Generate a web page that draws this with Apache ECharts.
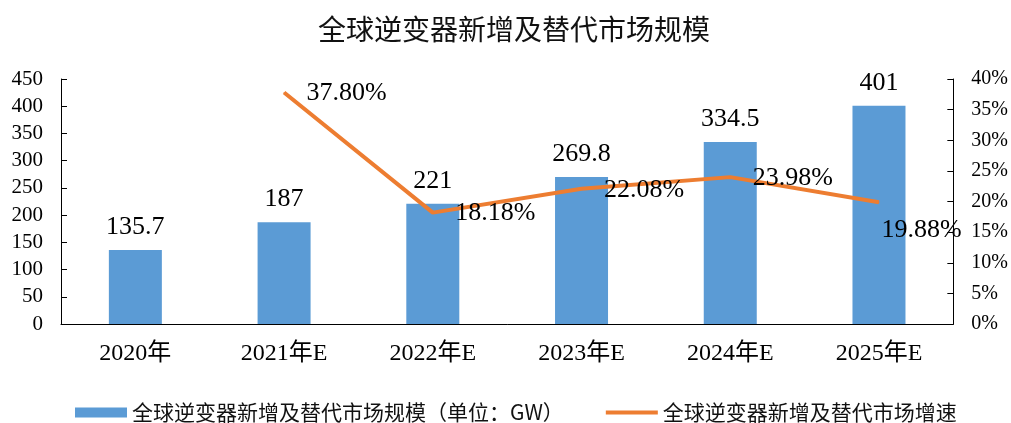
<!DOCTYPE html>
<html>
<head>
<meta charset="utf-8">
<script src="https://cdn.jsdelivr.net/npm/echarts@6/dist/echarts.min.js"></script>
<style>
  html, body { margin: 0; padding: 0; background: #fff; }
  #chart { width: 1011px; height: 423px; }
</style>
</head>
<body>
<div id="chart"></div>
<script>
// Inverter market: new + replacement demand (GW) and its growth rate
const categories = ['2020年', '2021年E', '2022年E', '2023年E', '2024年E', '2025年E'];
const marketSize = [135.7, 187, 221, 269.8, 334.5, 401];
const growthRate = [null, 37.80, 18.18, 22.08, 23.98, 19.88];
const leftTicks = { min: 0, max: 450, interval: 50 };
const rightTicks = { min: 0, max: 40, interval: 5 };

const sizeName = '全球逆变器新增及替代市场规模（单位：GW）';
const rateName = '全球逆变器新增及替代市场增速';

const FONT = '"Liberation Serif", "Times New Roman", "Noto Sans CJK SC", serif';
const CJK = '"Noto Sans CJK SC", "Liberation Serif", sans-serif';

const chart = echarts.init(document.getElementById('chart'));

const rateData = growthRate.map((v, i) => {
  if (i === growthRate.length - 1) {
    return { value: v, label: { distance: 2, offset: [0, 28] } };
  }
  return v;
});

chart.setOption({
  animation: false,
  backgroundColor: '#ffffff',
  title: {
    text: '全球逆变器新增及替代市场规模',
    left: 313,
    top: 10,
    textStyle: { fontFamily: CJK, fontSize: 28, fontWeight: 'normal', color: '#111' }
  },
  legend: {
    left: 75,
    top: 402,
    padding: 0,
    itemWidth: 52,
    itemHeight: 10,
    itemGap: 40,
    textStyle: { fontFamily: CJK, fontSize: 21, color: '#111' },
    data: [
      { name: sizeName, icon: 'rect' },
      { name: rateName, itemStyle: { opacity: 0 }, lineStyle: { width: 4 } }
    ]
  },
  grid: { left: 61, right: 56, top: 79, bottom: 99, containLabel: false },
  xAxis: {
    type: 'category',
    data: categories,
    axisLine: { lineStyle: { color: '#000', width: 1 } },
    axisTick: { inside: true, length: 6, lineStyle: { color: '#000' } },
    axisLabel: { fontFamily: FONT, fontSize: 24, color: '#000', margin: 18 }
  },
  yAxis: [
    {
      type: 'value',
      min: leftTicks.min, max: leftTicks.max, interval: leftTicks.interval,
      axisLine: { show: true, lineStyle: { color: '#000' } },
      axisTick: { show: true, inside: true, length: 6, lineStyle: { color: '#000' } },
      splitLine: { show: false },
      axisLabel: { fontFamily: FONT, fontSize: 21, color: '#000', margin: 18 }
    },
    {
      type: 'value',
      min: rightTicks.min, max: rightTicks.max, interval: rightTicks.interval,
      axisLine: { show: true, lineStyle: { color: '#000' } },
      axisTick: { show: true, inside: true, length: 6, lineStyle: { color: '#000' } },
      splitLine: { show: false },
      axisLabel: { fontFamily: FONT, fontSize: 20, color: '#000', margin: 18, formatter: '{value}%' }
    }
  ],
  series: [
    {
      name: sizeName,
      type: 'bar',
      data: marketSize,
      barWidth: 53,
      itemStyle: { color: '#5B9BD5' },
      label: {
        show: true,
        position: 'top',
        distance: 10,
        fontFamily: FONT,
        fontSize: 26,
        color: '#000'
      }
    },
    {
      name: rateName,
      type: 'line',
      yAxisIndex: 1,
      data: rateData,
      symbol: 'circle',
      symbolSize: 1,
      showSymbol: true,
      itemStyle: { color: '#ED7D31' },
      lineStyle: { color: '#ED7D31', width: 4 },
      label: {
        show: true,
        position: 'right',
        distance: 22,
        offset: [0, 1],
        fontFamily: FONT,
        fontSize: 26,
        color: '#000',
        formatter: p => p.value.toFixed(2) + '%'
      }
    }
  ]
});
</script>
</body>
</html>
